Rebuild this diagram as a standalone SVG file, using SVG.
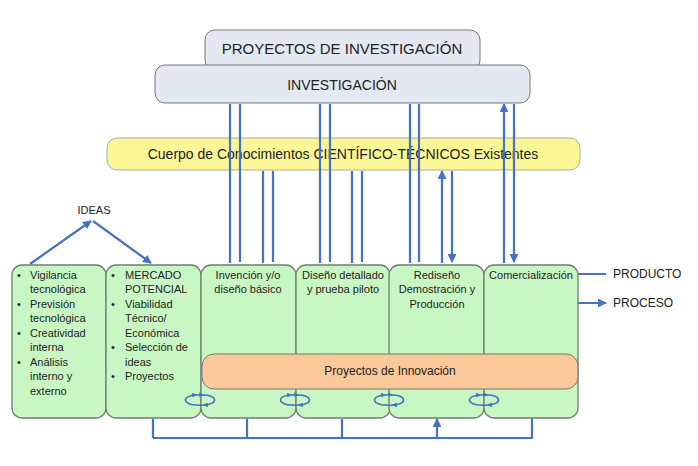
<svg xmlns="http://www.w3.org/2000/svg" width="698" height="466" viewBox="0 0 698 466">
<style>
text{font-family:"Liberation Sans",Arial,sans-serif;fill:#222}
.b{fill:#c9f7c4;stroke:#6f7f6f;stroke-width:1.3}
.l{stroke:#4472c4;stroke-width:2.2;fill:none}
.s{font-size:11px}
.c{text-anchor:middle}
</style>
<defs>
<marker id="a" viewBox="0 0 10 10" refX="9" refY="5" markerWidth="4" markerHeight="4" orient="auto"><path d="M0,0L10,5L0,10z" fill="#4472c4"/></marker>
<marker id="m" viewBox="0 0 10 10" refX="8" refY="5" markerWidth="3" markerHeight="3" orient="auto"><path d="M0,0L10,5L0,10z" fill="#4472c4"/></marker>
</defs>
<g id="proyectos-inv"><rect x="205" y="30" width="275" height="40" rx="10" fill="#e3e8f2" stroke="#777"/><text x="342" y="54" class="c" font-size="15">PROYECTOS DE INVESTIGACIÓN</text></g>
<g id="investigacion"><rect x="155" y="65" width="375" height="38" rx="10" fill="#e3e8f2" stroke="#777"/><text x="342" y="90" class="c" font-size="14">INVESTIGACIÓN</text></g>
<g id="cuerpo"><rect x="107" y="138" width="473" height="32" rx="10" fill="#fbf796" stroke="#aaa"/><text x="343" y="159" class="c" font-size="14">Cuerpo de Conocimientos CIENTÍFICO-TÉCNICOS Existentes</text></g>
<g id="conn">
<path class="l" marker-end="url(#a)" d="M230,263V104M320,263V104M410,263V104M504,263V104"/>
<path class="l" marker-end="url(#a)" d="M240,104V262M330,104V262M419,104V262M514,104V262"/>
<path class="l" marker-end="url(#a)" d="M263,263V171M352,263V171M442,263V171"/>
<path class="l" marker-end="url(#a)" d="M273,171V262M362,171V262M452,171V262"/>
<path class="l" marker-end="url(#a)" d="M30,264L91,221"/>
<path class="l" marker-end="url(#a)" d="M93,221L151,263"/>
<path class="l" d="M153,438H532V418"/>
<path class="l" marker-end="url(#a)" d="M153,438V419M247,438V419M342,438V419M437,438V419"/>
<path class="l" marker-end="url(#a)" d="M578,274H606M578,303H606"/>
</g>
<g id="c1"><rect class="b" x="12" y="265" width="94" height="153" rx="10"/>
<g class="s"><text x="17" y="279">•</text><text x="30" y="279">Vigilancia</text><text x="30" y="293">tecnológica</text><text x="17" y="308">•</text><text x="30" y="308">Previsión</text><text x="30" y="322">tecnológica</text><text x="17" y="337">•</text><text x="30" y="337">Creatividad</text><text x="30" y="351">interna</text><text x="17" y="366">•</text><text x="30" y="366">Análisis</text><text x="30" y="380">interno y</text><text x="30" y="395">externo</text></g></g>
<g id="c2"><rect class="b" x="106" y="265" width="95" height="153" rx="10"/>
<g class="s"><text x="111" y="279">•</text><text x="125" y="279">MERCADO</text><text x="125" y="293">POTENCIAL</text><text x="111" y="308">•</text><text x="125" y="308">Viabilidad</text><text x="125" y="322">Técnico/</text><text x="125" y="337">Económica</text><text x="111" y="351">•</text><text x="125" y="351">Selección de</text><text x="125" y="366">ideas</text><text x="111" y="380">•</text><text x="125" y="380">Proyectos</text></g></g>
<g id="c3"><rect class="b" x="201" y="265" width="95" height="153" rx="10"/><text class="s c" x="248" y="279">Invención y/o</text><text class="s c" x="248" y="293">diseño básico</text></g>
<g id="c4"><rect class="b" x="296" y="265" width="94" height="153" rx="10"/><text class="s c" x="343" y="279">Diseño detallado</text><text class="s c" x="343" y="293">y prueba piloto</text></g>
<g id="c5"><rect class="b" x="389" y="265" width="95" height="153" rx="10"/><text class="s c" x="437" y="279">Rediseño</text><text class="s c" x="437" y="293">Demostración y</text><text class="s c" x="437" y="308">Producción</text></g>
<g id="c6"><rect class="b" x="484" y="265" width="94" height="153" rx="10"/><text class="s c" x="531" y="279">Comercialización</text></g>
<g id="innov"><rect x="202" y="354" width="376" height="35" rx="12" fill="#fbc89a" stroke="#777"/><text class="c" x="390" y="375" font-size="12">Proyectos de Innovación</text></g>
<g id="cycles" stroke="#4472c4" stroke-width="1.6" fill="none">
<g transform="translate(200,400)"><path d="M-3,5A11,5 0 0 1 -4,-5" marker-end="url(#m)"/><path d="M3,-5A11,5 0 0 1 4,5" marker-end="url(#m)"/><path d="M-4,-5A11,5 0 0 1 3,-5" marker-end="url(#m)"/><path d="M4,5A11,5 0 0 1 -3,5"/></g>
<g transform="translate(295,400)"><path d="M-3,5A11,5 0 0 1 -4,-5" marker-end="url(#m)"/><path d="M3,-5A11,5 0 0 1 4,5" marker-end="url(#m)"/><path d="M-4,-5A11,5 0 0 1 3,-5" marker-end="url(#m)"/><path d="M4,5A11,5 0 0 1 -3,5"/></g>
<g transform="translate(389,400)"><path d="M-3,5A11,5 0 0 1 -4,-5" marker-end="url(#m)"/><path d="M3,-5A11,5 0 0 1 4,5" marker-end="url(#m)"/><path d="M-4,-5A11,5 0 0 1 3,-5" marker-end="url(#m)"/><path d="M4,5A11,5 0 0 1 -3,5"/></g>
<g transform="translate(484,400)"><path d="M-3,5A11,5 0 0 1 -4,-5" marker-end="url(#m)"/><path d="M3,-5A11,5 0 0 1 4,5" marker-end="url(#m)"/><path d="M-4,-5A11,5 0 0 1 3,-5" marker-end="url(#m)"/><path d="M4,5A11,5 0 0 1 -3,5"/></g>
</g>
<g id="ideas"><text x="94" y="214" class="c" font-size="11">IDEAS</text></g>
<g id="producto"><text x="613" y="278" font-size="12">PRODUCTO</text></g>
<g id="proceso"><text x="613" y="307" font-size="12">PROCESO</text></g>
</svg>
